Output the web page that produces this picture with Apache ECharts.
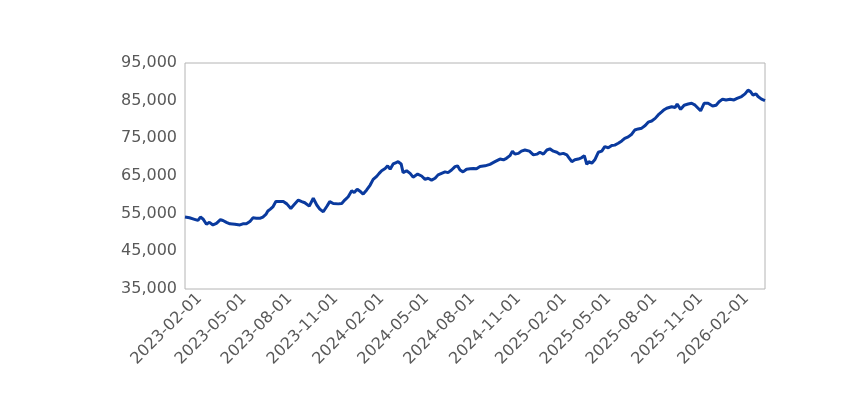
<!DOCTYPE html>
<html>
<head>
<meta charset="utf-8">
<script src="https://cdn.jsdelivr.net/npm/echarts@6/dist/echarts.min.js"></script>
<style>
html,body{margin:0;padding:0;background:#fff;}
#chart{width:867px;height:396px;}
</style>
</head>
<body>
<div id="chart"></div>
<script>
var dates = [
'2023-01-03','2023-01-12','2023-01-22','2023-01-29','2023-02-03','2023-02-08','2023-02-15','2023-02-21','2023-02-28','2023-03-07',
'2023-03-15','2023-03-20','2023-03-27','2023-04-03','2023-04-13','2023-04-23','2023-04-29','2023-05-06','2023-05-13','2023-05-19',
'2023-05-26','2023-06-03','2023-06-08','2023-06-14','2023-06-18','2023-06-23','2023-06-28','2023-07-04','2023-07-08','2023-07-19',
'2023-07-26','2023-08-03','2023-08-09','2023-08-18','2023-08-25','2023-08-31','2023-09-09','2023-09-17','2023-09-24','2023-09-30',
'2023-10-07','2023-10-14','2023-10-20','2023-10-27','2023-11-06','2023-11-13','2023-11-19','2023-11-26','2023-12-03','2023-12-08',
'2023-12-14','2023-12-21','2023-12-26','2024-01-02','2024-01-09','2024-01-15','2024-01-22','2024-01-27','2024-02-01','2024-02-08',
'2024-02-13','2024-02-18','2024-02-24','2024-02-29','2024-03-05','2024-03-11','2024-03-15','2024-03-22','2024-03-29','2024-04-04',
'2024-04-13','2024-04-21','2024-04-28','2024-05-04','2024-05-11','2024-05-18','2024-05-24','2024-05-31','2024-06-07','2024-06-13',
'2024-06-20','2024-06-27','2024-07-02','2024-07-07','2024-07-13','2024-07-20','2024-07-27','2024-08-03','2024-08-09','2024-08-16',
'2024-08-26','2024-09-05','2024-09-15','2024-09-25','2024-10-02','2024-10-08','2024-10-15','2024-10-20','2024-10-25','2024-11-01',
'2024-11-07','2024-11-14','2024-11-23','2024-12-01','2024-12-08','2024-12-14','2024-12-21','2024-12-28','2025-01-03','2025-01-10',
'2025-01-17','2025-01-23','2025-01-30','2025-02-06','2025-02-11','2025-02-16','2025-02-22','2025-03-01','2025-03-08','2025-03-13',
'2025-03-18','2025-03-22','2025-03-28','2025-04-03','2025-04-10','2025-04-17','2025-04-23','2025-04-30','2025-05-07','2025-05-13',
'2025-05-20','2025-05-27','2025-06-02','2025-06-09','2025-06-16','2025-06-22','2025-06-29','2025-07-06','2025-07-13','2025-07-19',
'2025-07-26','2025-08-02','2025-08-08','2025-08-15','2025-08-20','2025-08-25','2025-09-04','2025-09-11','2025-09-15','2025-09-22',
'2025-09-29','2025-10-07','2025-10-14','2025-10-21','2025-10-27','2025-11-01','2025-11-08','2025-11-16','2025-11-25','2025-12-02',
'2025-12-08','2025-12-15','2025-12-22','2025-12-30','2026-01-07','2026-01-13','2026-01-22','2026-01-29','2026-02-04','2026-02-09',
'2026-02-14','2026-02-20','2026-02-24','2026-03-03','2026-03-10'
];
var values = [
54100,53900,53500,53200,54100,53600,52200,52700,52000,52400,
53400,53200,52700,52300,52200,52000,52300,52300,52900,53900,
53800,53800,54100,54800,55700,56200,56800,58200,58600,58200,
57600,56400,57300,58600,58200,57900,57000,59100,57300,56200,
55500,56900,58200,57700,57600,57700,58600,59500,61100,60600,
61500,60800,60200,61300,62600,64100,64900,65700,66400,67000,
67700,66800,68200,68500,68800,68200,65900,66400,65700,64700,
65500,65000,64100,64400,63900,64400,65300,65700,66100,65900,
66600,67500,67700,66600,66100,66800,66900,67000,66900,67500,
67700,68100,68800,69500,69300,69700,70400,71600,70800,71000,
71600,71900,71600,70600,70800,71300,70800,71900,72200,71600,
71300,70800,71000,70600,69700,68800,69300,69500,69900,70400,
68100,68800,68400,69300,71300,71600,72800,72500,73100,73200,
73700,74300,75000,75400,76100,77200,77500,77700,78400,79300,
79600,80300,81200,82000,82600,83000,83400,83200,84100,82700,
83800,84100,84300,83800,83000,82300,84300,84300,83600,83800,
84700,85400,85200,85400,85200,85600,86100,86800,87800,87400,
86500,86800,86100,85400,85000
];
var xTickLabels = ['2023-02-01','2023-05-01','2023-08-01','2023-11-01','2024-02-01','2024-05-01','2024-08-01',
'2024-11-01','2025-02-01','2025-05-01','2025-08-01','2025-11-01','2026-02-01'];
var yTickLabels = [35000,45000,55000,65000,75000,85000,95000];

function toTs(s){var p=s.split('-');return Date.UTC(+p[0],+p[1]-1,+p[2]);}
function pad(n){return n<10?'0'+n:''+n;}
function fmtDate(v){var d=new Date(v);return d.getUTCFullYear()+'-'+pad(d.getUTCMonth()+1)+'-'+pad(d.getUTCDate());}

var seriesData = dates.map(function(d,i){return [toTs(d), values[i]];});

var chart = echarts.init(document.getElementById('chart'), null, {renderer:'canvas'});
var fontFam = '"DejaVu Sans", sans-serif';
chart.setOption({
  animation:false,
  grid:{left:185, right:102, top:63, bottom:107, show:true, borderColor:'#b4b4b4', borderWidth:1, containLabel:false},
  xAxis:{
    type:'value',
    min:toTs(dates[0]), max:toTs(dates[dates.length-1]),
    axisLine:{show:false}, axisTick:{show:false}, splitLine:{show:false},
    axisLabel:{
      customValues: xTickLabels.map(toTs),
      rotate:45, color:'#595959', fontSize:16, fontFamily:fontFam, margin:7,
      formatter:function(v){return fmtDate(v);},
      hideOverlap:false, showMinLabel:true, showMaxLabel:true
    }
  },
  yAxis:{
    type:'value', min:35000, max:95000, interval:5000,
    axisLine:{show:false}, axisTick:{show:false}, splitLine:{show:false},
    axisLabel:{
      color:'#595959', fontSize:16, fontFamily:fontFam, margin:8,
      formatter:function(v){
        if (yTickLabels.indexOf(v) < 0) return '';
        return v.toLocaleString('en-US');
      }
    }
  },
  series:[{
    type:'line', data:seriesData, showSymbol:false, symbol:'none',
    lineStyle:{color:'#0a3a9e', width:3}, smooth:false
  }]
});
</script>
</body>
</html>
